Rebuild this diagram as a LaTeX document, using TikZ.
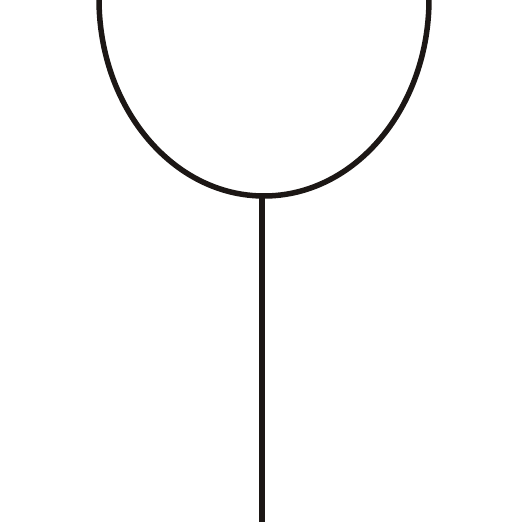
\documentclass[tikz,border=0pt]{standalone}
\definecolor{ink}{HTML}{1C1715}
\begin{document}
\begin{tikzpicture}[x=1pt,y=1pt,stroke/.style={draw=ink,line width=5.5pt}]
\useasboundingbox (0,0) rectangle (512,522);
\coordinate (left) at (99,523);
\coordinate (bottom) at (262,326);
\coordinate (foot) at (262,0);
\draw[stroke] (left) arc[start angle=180,end angle=360,x radius=165,y radius=197];
\draw[stroke] (bottom) -- (foot);
\end{tikzpicture}
\end{document}
